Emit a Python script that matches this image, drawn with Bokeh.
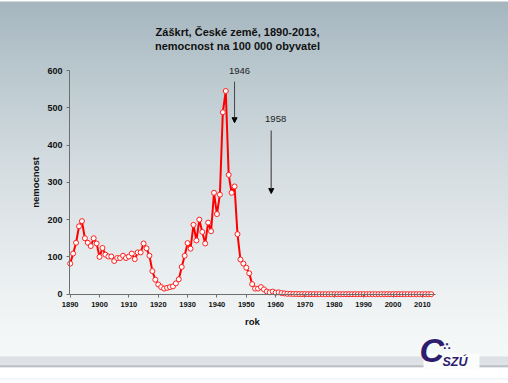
from bokeh.plotting import figure
from bokeh.models import Label, Arrow, NormalHead, FixedTicker, Range1d
from bokeh.embed import file_html
from bokeh.resources import INLINE

years = list(range(1890, 2014))
incidence = [
    82, 109, 138, 182, 196, 150, 138, 129, 150, 136,
    100, 124, 106, 101, 101, 89, 97, 97, 103, 97,
    101, 109, 94, 112, 112, 136, 123, 103, 62, 39,
    26, 19, 15, 17, 19, 21, 29, 40, 73, 103,
    137, 122, 186, 144, 200, 167, 136, 192, 169, 272,
    215, 267, 488, 545, 320, 272, 289, 161, 93, 82,
    71, 56, 27, 15, 15, 19, 13, 7, 5, 7,
    4, 5, 3, 2, 1, 1, 0.5, 0.5, 0.3, 0.3,
    0.2, 0.2, 0.1, 0.1, 0.1, 0, 0, 0, 0, 0,
    0, 0, 0, 0, 0, 0, 0, 0, 0, 0,
    0, 0, 0, 0, 0, 0, 0, 0, 0, 0,
    0, 0, 0, 0, 0, 0, 0, 0, 0, 0,
    0, 0, 0, 0,
]
x_ticks = [1890, 1900, 1910, 1920, 1930, 1940, 1950, 1960, 1970, 1980, 1990, 2000, 2010]
y_ticks = [0, 100, 200, 300, 400, 500, 600]
title_lines = ["Záškrt, České země, 1890-2013,", "nemocnost na 100 000 obyvatel"]
arrow_years = [1946, 1958.5]
arrow_labels = ["1946", "1958"]

FONT = "Liberation Sans"
W, H = 508, 383

# the plot frame spans the whole canvas; axes are pinned with fixed_location
p = figure(width=W, height=H, output_backend="svg", toolbar_location=None,
           x_range=Range1d(1866.25, 2039.34), y_range=Range1d(-239.6, 787.8),
           min_border=0)
p.styles = {"background": "linear-gradient(to bottom, #ffffff 0px, #ffffff 1px, #a6b6bf 2px, #bccad0 80px, "
                          "#d5dde1 170px, #e7ecee 260px, #f3f6f6 330px, #f5f8f8 356px, #dcdfe4 357px, "
                          "#e0e3e7 365px, #a9acb3 366px, #d0d2d6 367px, #ffffff 368px, #ffffff 378px, "
                          "#ebedef 379px, #ffffff 380px)"}
p.background_fill_alpha = 0
p.border_fill_alpha = 0
p.outline_line_color = None
p.grid.visible = False

p.line(years, incidence, line_color="#ff0000", line_width=2)
p.scatter(years, incidence, size=5, marker="circle", fill_color="white",
          line_color="#ff2020", line_width=1)

AXIS_X0 = 1889.76
p.xaxis.fixed_location = 0
p.yaxis.fixed_location = AXIS_X0
p.xaxis.bounds = (AXIS_X0, 2014.5)
p.yaxis.bounds = (0, 600)

for ax in (p.xaxis[0], p.yaxis[0]):
    ax.axis_line_color = "#6e6e6e"
    ax.major_tick_line_color = "#6e6e6e"
    ax.minor_tick_line_color = None
    ax.major_tick_in = 0
    ax.major_tick_out = 3
    ax.major_label_text_font = FONT
    ax.major_label_text_font_style = "bold"
    ax.major_label_text_color = "#111111"
    ax.axis_label_text_font = FONT
    ax.axis_label_text_font_style = "bold"
    ax.axis_label_text_color = "#111111"
    ax.axis_label_text_font_size = "9.5px"

p.xaxis.ticker = FixedTicker(ticks=x_ticks)
p.yaxis.ticker = FixedTicker(ticks=y_ticks)
p.xaxis.major_label_text_font_size = "7.5px"
p.yaxis.major_label_text_font_size = "9px"
p.xaxis.major_label_standoff = 5
p.yaxis.major_label_standoff = 4
p.xaxis.axis_label = "rok"
p.yaxis.axis_label = "nemocnost"
p.xaxis.axis_label_standoff = 5
p.yaxis.axis_label_standoff = 3

# title (screen units: x from left, y from bottom of canvas)
for i, t in enumerate(title_lines):
    p.add_layout(Label(x=237, y=H - 31.7 - 14 * i, x_units="screen", y_units="screen", text=t,
                       text_align="center", text_baseline="middle", text_font=FONT,
                       text_font_style="bold", text_font_size="11px", text_color="#111111"))

# arrows
p.add_layout(Arrow(x_start=arrow_years[0], y_start=570, x_end=arrow_years[0], y_end=460,
                   line_color="#444444", line_width=1,
                   end=NormalHead(size=5, fill_color="black", line_color="black")))
p.add_layout(Arrow(x_start=arrow_years[1], y_start=439, x_end=arrow_years[1], y_end=270,
                   line_color="#6a6a6a", line_width=1.5,
                   end=NormalHead(size=5, fill_color="black", line_color="black")))
p.add_layout(Label(x=1947.7, y=600, text=arrow_labels[0], text_align="center", text_baseline="middle",
                   text_font=FONT, text_font_size="9.5px", text_color="#222222"))
p.add_layout(Label(x=1960.0, y=469, text=arrow_labels[1], text_align="center", text_baseline="middle",
                   text_font=FONT, text_font_size="9.5px", text_color="#222222"))

# logo
p.add_layout(Label(x=423, y=H - 369, x_units="screen", y_units="screen", text="\u2003\u2003\u2003\u2003",
                   text_font=FONT, text_font_size="14px",
                   background_fill_color="#fbfcfc", background_fill_alpha=1))
p.add_layout(Label(x=419, y=H - 368, x_units="screen", y_units="screen", text="C",
                   text_font=FONT, text_font_style="bold italic", text_font_size="34px",
                   text_color="#2e1c6e"))
p.add_layout(Label(x=443, y=H - 351, x_units="screen", y_units="screen", text="∴",
                   text_font="DejaVu Sans", text_font_style="bold", text_font_size="10px",
                   text_color="#2e1c6e"))
p.add_layout(Label(x=442, y=H - 368, x_units="screen", y_units="screen", text="SZÚ",
                   text_font=FONT, text_font_style="bold italic", text_font_size="12.5px",
                   text_color="#2e1c6e"))

open("out.html", "w").write(file_html(p, INLINE))
